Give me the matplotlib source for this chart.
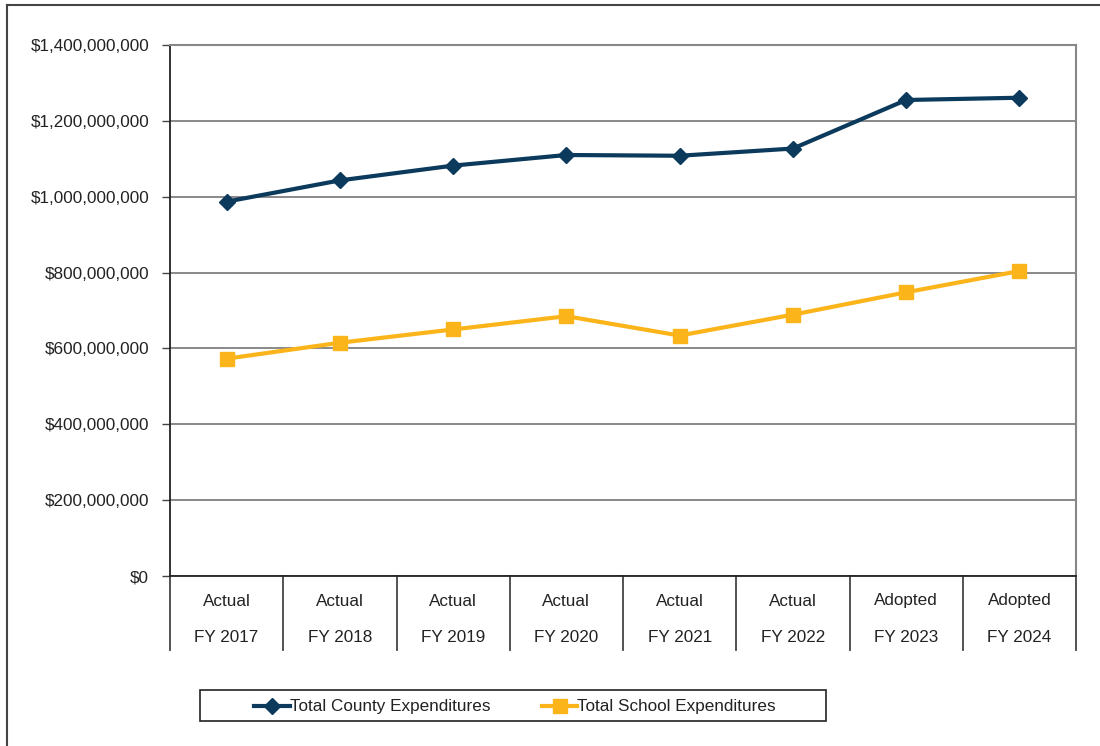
import matplotlib
matplotlib.use("Agg")
import matplotlib.pyplot as plt
from matplotlib import font_manager
from matplotlib.lines import Line2D
from matplotlib.patches import Rectangle
from matplotlib.ticker import FuncFormatter

names = {f.name for f in font_manager.fontManager.ttflist}
family = 'Liberation Sans Narrow' if 'Liberation Sans Narrow' in names else 'Liberation Sans'
plt.rcParams['font.family'] = [family, 'DejaVu Sans']

categories_top = ["Actual", "Actual", "Actual", "Actual", "Actual", "Actual", "Adopted", "Adopted"]
categories_bottom = ["FY 2017", "FY 2018", "FY 2019", "FY 2020", "FY 2021", "FY 2022", "FY 2023", "FY 2024"]
county = [987e6, 1043e6, 1082e6, 1110e6, 1108e6, 1127e6, 1255e6, 1261e6]
school = [573e6, 615e6, 650e6, 685e6, 634e6, 689e6, 748e6, 804e6]
yticks = [0, 200e6, 400e6, 600e6, 800e6, 1000e6, 1200e6, 1400e6]

navy = '#0b3a5c'
gold = '#fbb41a'
text_color = '#222222'
fs = 12.3

fig = plt.figure(figsize=(11, 7.46), dpi=100)
ax = fig.add_axes([170/1100, 1-576/746, (1076-170)/1100, (576-45)/746])

x = list(range(len(categories_bottom)))
ax.plot(x, county, color=navy, lw=3, marker='D', ms=8, label='Total County Expenditures', zorder=3)
ax.plot(x, school, color=gold, lw=3, marker='s', ms=10, label='Total School Expenditures', zorder=3)

ax.set_xlim(-0.5, len(x) - 0.5)
ax.set_ylim(0, 1400e6)
ax.set_yticks(yticks)
ax.yaxis.set_major_formatter(FuncFormatter(lambda v, p: f"${v:,.0f}"))
ax.tick_params(axis='y', labelsize=fs, labelcolor=text_color, length=6, width=1, color='#444444', pad=9, direction='out')
ax.set_xticks([])
ax.grid(axis='y', color='#808080', lw=1.3)
ax.set_axisbelow(True)
for s in ['top', 'right']:
    ax.spines[s].set_color('#888888')
    ax.spines[s].set_linewidth(1.5)
ax.spines['left'].set_color('#222222')
ax.spines['left'].set_linewidth(1.3)
ax.spines['bottom'].set_color('#222222')
ax.spines['bottom'].set_linewidth(1.3)

# category table below
trans = ax.get_xaxis_transform()
for b in range(len(x) + 1):
    ax.add_line(Line2D([b - 0.5, b - 0.5], [0, -74/531], transform=trans, color='#444444', lw=1.3, clip_on=False))
for i in x:
    ax.text(i, -25/531, categories_top[i], transform=trans, ha='center', va='center', fontsize=fs, color=text_color)
    ax.text(i, -61/531, categories_bottom[i], transform=trans, ha='center', va='center', fontsize=fs, color=text_color)

# legend (frame drawn separately)
fig.add_artist(Rectangle((200/1100, 1-721/746), 626/1100, 31/746, transform=fig.transFigure,
                         fill=False, edgecolor='#222222', lw=1.2))
leg = fig.legend(loc='center', bbox_to_anchor=(515/1100, 1-707/746), ncol=2,
                 fontsize=fs, frameon=False,
                 handlelength=2.1, handletextpad=0.0, columnspacing=3.0, borderpad=0.0,
                 labelcolor=text_color)

# outer frame (top and left)
fig.add_artist(Line2D([7/1100, 1], [1-5/746, 1-5/746], transform=fig.transFigure, color='#444444', lw=1.5))
fig.add_artist(Line2D([7/1100, 7/1100], [0, 1-5/746], transform=fig.transFigure, color='#444444', lw=1.5))

fig.savefig('out.png', dpi=100)
